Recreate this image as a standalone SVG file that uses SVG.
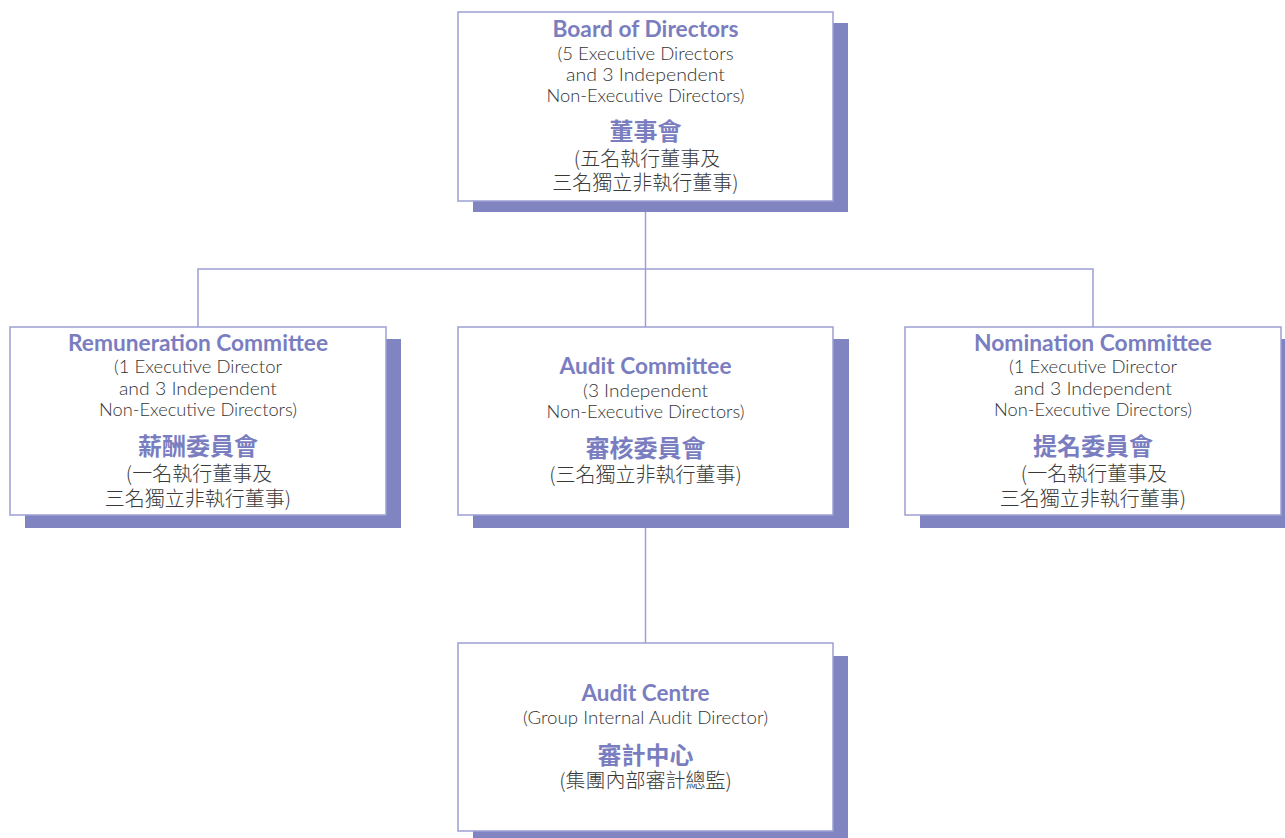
<svg xmlns="http://www.w3.org/2000/svg" width="1285" height="838" viewBox="0 0 1285 838">
<style>
.shadow{fill:#8084C1}
.box{fill:#ffffff;stroke:#9C9FD4;stroke-width:1.5}
.conn{fill:none;stroke:#9C9FD4;stroke-width:1.5}
text{text-anchor:middle}
.t{font-family:"Lato","Liberation Sans",sans-serif;font-weight:700;font-size:22px;fill:#7A7EC0}
.s{font-family:"Lato","Liberation Sans",sans-serif;font-weight:300;font-size:17px;fill:#333333}
.ct{font-family:"Noto Sans CJK TC","Noto Sans CJK SC",sans-serif;font-weight:700;font-size:24px;fill:#7A7EC0}
.cs{font-family:"Noto Sans CJK TC","Noto Sans CJK SC",sans-serif;font-weight:300;font-size:20px;fill:#3a3a3a}
</style>
<rect width="1285" height="838" fill="#ffffff"/>
<g id="connectors">
<line class="conn" x1="645.5" y1="201" x2="645.5" y2="327"/>
<polyline class="conn" points="198,327 198,269 1093,269 1093,327"/>
<line class="conn" x1="645.5" y1="527" x2="645.5" y2="643"/>
</g>
<g id="board">
<rect class="shadow" x="473" y="23" width="375" height="189"/>
<rect class="box" x="458" y="12" width="375" height="189"/>
<text class="t" x="645.5" y="37" textLength="186" lengthAdjust="spacingAndGlyphs">Board of Directors</text>
<text class="s"><tspan x="645.5" y="60" textLength="176" lengthAdjust="spacingAndGlyphs">(5 Executive Directors</tspan><tspan x="645.5" y="81" textLength="159" lengthAdjust="spacingAndGlyphs">and 3 Independent</tspan><tspan x="645.5" y="102" textLength="198" lengthAdjust="spacingAndGlyphs">Non-Executive Directors)</tspan></text>
<text><tspan class="ct" x="645.5" y="140">董事會</tspan><tspan class="cs" x="647" y="166">(五名執行董事及</tspan><tspan class="cs" x="645.5" y="190">三名獨立非執行董事)</tspan></text>
</g>
<g id="remuneration">
<rect class="shadow" x="25" y="339" width="376" height="189"/>
<rect class="box" x="10" y="327" width="376" height="188"/>
<text class="t" x="198" y="351" textLength="260" lengthAdjust="spacingAndGlyphs">Remuneration Committee</text>
<text class="s"><tspan x="198" y="373" textLength="168" lengthAdjust="spacingAndGlyphs">(1 Executive Director</tspan><tspan x="198" y="395" textLength="158" lengthAdjust="spacingAndGlyphs">and 3 Independent</tspan><tspan x="198" y="416" textLength="198" lengthAdjust="spacingAndGlyphs">Non-Executive Directors)</tspan></text>
<text><tspan class="ct" x="198" y="455">薪酬委員會</tspan><tspan class="cs" x="199" y="481">(一名執行董事及</tspan><tspan class="cs" x="198" y="506">三名獨立非執行董事)</tspan></text>
</g>
<g id="audit-committee">
<rect class="shadow" x="473" y="339" width="376" height="189"/>
<rect class="box" x="458" y="327" width="375" height="188"/>
<text class="t" x="645.5" y="374" textLength="172" lengthAdjust="spacingAndGlyphs">Audit Committee</text>
<text class="s"><tspan x="645.5" y="397" textLength="125" lengthAdjust="spacingAndGlyphs">(3 Independent</tspan><tspan x="645.5" y="418" textLength="198" lengthAdjust="spacingAndGlyphs">Non-Executive Directors)</tspan></text>
<text><tspan class="ct" x="645.5" y="457">審核委員會</tspan><tspan class="cs" x="645.5" y="482">(三名獨立非執行董事)</tspan></text>
</g>
<g id="nomination">
<rect class="shadow" x="920" y="339" width="376" height="189"/>
<rect class="box" x="905" y="327" width="376" height="188"/>
<text class="t" x="1093" y="351" textLength="238" lengthAdjust="spacingAndGlyphs">Nomination Committee</text>
<text class="s"><tspan x="1093" y="373" textLength="168" lengthAdjust="spacingAndGlyphs">(1 Executive Director</tspan><tspan x="1093" y="395" textLength="158" lengthAdjust="spacingAndGlyphs">and 3 Independent</tspan><tspan x="1093" y="416" textLength="198" lengthAdjust="spacingAndGlyphs">Non-Executive Directors)</tspan></text>
<text><tspan class="ct" x="1093" y="455">提名委員會</tspan><tspan class="cs" x="1094" y="481">(一名執行董事及</tspan><tspan class="cs" x="1093" y="506">三名獨立非執行董事)</tspan></text>
</g>
<g id="audit-centre">
<rect class="shadow" x="473" y="656" width="375" height="189"/>
<rect class="box" x="458" y="643" width="375" height="188"/>
<text class="t" x="645.5" y="701" textLength="128" lengthAdjust="spacingAndGlyphs">Audit Centre</text>
<text class="s" x="645.5" y="724" textLength="245" lengthAdjust="spacingAndGlyphs">(Group Internal Audit Director)</text>
<text><tspan class="ct" x="645.5" y="764">審計中心</tspan><tspan class="cs" x="645.5" y="788">(集團內部審計總監)</tspan></text>
</g>
</svg>
